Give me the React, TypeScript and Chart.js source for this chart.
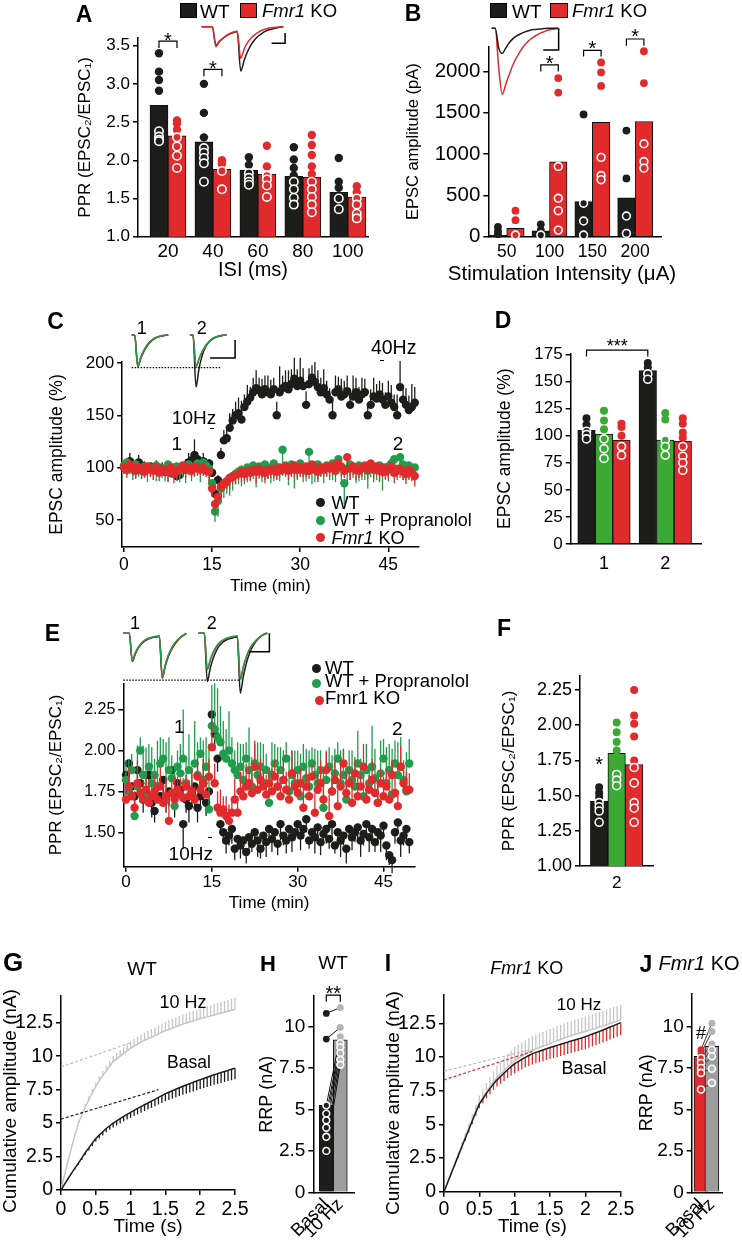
import { useEffect, useRef } from 'react';
import { Chart, registerables } from 'chart.js';

Chart.register(...registerables);

const FONT = '"Liberation Sans", Arial, Helvetica, sans-serif';
const K = 1; // horizontal scale between canvas and page
const BLACK = '#1d1d1b';
const RED = '#e02a2c';
const GREEN = '#3aaa35';
const GREEN_DOT = '#1f9d4c';
const GRAY_BAR = '#9d9d9d';
const GRAY_DOT = '#b4b4b4';
const GRAY_LINE = '#c6c6c6';

// ---------------- Panel A ----------------
const A_ISI = ['20', '40', '60', '80', '100'];
const A_WT = [2.72, 2.24, 1.87, 1.79, 1.58];
const A_KO = [2.32, 1.88, 1.82, 1.78, 1.52];
const A_WT_DOTS = [
  [3.4, 3.16, 3.05, 2.91, 2.38, 2.31, 2.27, 2.25],
  [3.0, 2.62, 2.3, 2.16, 2.1, 2.03, 1.96, 1.72],
  [2.04, 1.94, 1.83, 1.77, 1.72, 1.68],
  [2.17, 2.01, 1.9, 1.8, 1.72, 1.62, 1.51, 1.42],
  [2.03, 1.72, 1.64, 1.5, 1.36],
];
const A_KO_DOTS = [
  [2.52, 2.48, 2.4, 2.3, 2.18, 2.06, 1.9],
  [2.0, 1.95, 1.86, 1.62],
  [2.19, 1.92, 1.8, 1.75, 1.67, 1.52],
  [2.33, 2.2, 2.07, 1.92, 1.82, 1.72, 1.62, 1.52, 1.42, 1.32],
  [1.66, 1.58, 1.5, 1.42, 1.3, 1.24],
];
const A_TR_WT = [0, 0, 0, 0, -0.42, -0.33, -0.26, -0.2, -0.16, -0.13, -0.11, -1.0, -0.75, -0.55, -0.4, -0.29, -0.21, -0.15, -0.1, -0.07, -0.05, -0.03, -0.015, 0];
const A_TR_KO = [0, 0, 0, 0, -0.45, -0.34, -0.26, -0.2, -0.15, -0.12, -0.1, -0.71, -0.5, -0.35, -0.25, -0.18, -0.12, -0.08, -0.05, -0.03, -0.02, -0.01, -0.005, 0];
const A_SCALE_X = [19.7, 23.5, 23.5];
const A_SCALE_Y = [-0.375, -0.375, -0.14];

// ---------------- Panel B ----------------
const B_INT = ['50', '100', '150', '200'];
const B_Y_TICKS = [0, 500, 1000, 1500, 2000];
const B_WT = [20, 70, 425, 470];
const B_KO = [100, 905, 1385, 1395];
const B_WT_DOTS = [[120, 70, 30], [150, 80, 20], [1480, 405, 190, 20], [1285, 705, 250, 40]];
const B_KO_DOTS = [[315, 200, 20], [1920, 1745, 850, 465, 315, 80], [2110, 1990, 1825, 960, 740, 690], [2245, 1860, 1125, 910, 830]];
const B_TR_WT = [0, 0, -0.3, -0.38, -0.3, -0.22, -0.16, -0.12, -0.09, -0.065, -0.045, -0.03, -0.02, -0.015, -0.01, -0.005, 0, 0, 0, 0];
const B_TR_KO = [0, 0, -0.6, -1.0, -0.85, -0.7, -0.56, -0.45, -0.36, -0.28, -0.22, -0.17, -0.13, -0.1, -0.07, -0.05, -0.03, -0.02, -0.01, 0];
const B_SCALE_X = [14.7, 19.1, 19.1];
const B_SCALE_Y = [-0.33, -0.33, 0];

// ---------------- Panel C ----------------
const C_STEP_MIN = 0.5;
const C_WT = [
  100, 104, 106, 103, 101, 105, 102, 100, 99, 101,
  98, 100, 97, 99, 96, 98, 95, 94, 92, 93,
  98, 102, 105, 107, 112, 108, 104, 106, 103, 104,
  95, 75, 88, 112, 126, 128, 138, 145, 150, 152,
  146, 158, 163, 167, 172, 176, 174, 170, 175, 172,
  170, 175, 150, 172, 176, 178, 175, 180, 185, 178,
  183, 178, 160, 180, 186, 182, 177, 172, 176, 170,
  165, 150, 172, 175, 168, 170, 173, 160, 168, 172,
  165, 170, 172, 150, 160, 168, 166, 170, 165, 160,
  168, 162, 158, 150, 177, 165, 160, 155, 158, 162,
];
const C_WT_ERR = [
  6, 4, 8, 5, 3, 7, 4, 6, 5, 3,
  5, 7, 4, 6, 3, 5, 8, 4, 6, 5,
  4, 6, 9, 5, 15, 7, 5, 8, 6, 4,
  6, 8, 5, 7, 10, 12, 14, 11, 13, 15,
  18, 12, 16, 10, 14, 17, 12, 15, 13, 16,
  14, 11, 13, 25, 12, 15, 18, 14, 20, 16,
  22, 17, 13, 15, 12, 19, 16, 14, 18, 13,
  11, 14, 16, 12, 17, 13, 15, 11, 20, 14,
  12, 16, 13, 11, 15, 18, 14, 13, 16, 12,
  15, 17, 12, 20, 25, 13, 16, 14, 22, 15,
];
const C_GR = [
  102, 105, 100, 98, 103, 100, 97, 101, 99, 100,
  98, 102, 100, 97, 99, 103, 98, 100, 101, 97,
  100, 98, 103, 99, 101, 104, 100, 105, 102, 99,
  85, 58, 68, 80, 84, 86, 90, 92, 94, 96,
  98, 95, 100, 97, 102, 99, 101, 96, 103, 100,
  98, 104, 100, 97, 117, 102, 99, 103, 98, 101,
  104, 100, 97, 115, 101, 98, 103, 100, 99, 102,
  100, 104, 97, 108, 101, 85, 99, 103, 100, 98,
  102, 99, 101, 97, 103, 100, 98, 102, 96, 100,
  101, 104, 108, 99, 110, 103, 100, 102, 98, 100,
];
const C_GR_ERR = [
  8, 12, 6, 10, 14, 9, 7, 11, 13, 8,
  10, 15, 9, 7, 12, 16, 8, 10, 14, 11,
  9, 13, 7, 12, 10, 8, 14, 11, 9, 13,
  12, 10, 15, 9, 13, 11, 17, 14, 10, 12,
  16, 11, 14, 9, 13, 18, 12, 10, 15, 11,
  13, 17, 12, 10, 14, 11, 16, 12, 18, 13,
  11, 14, 10, 13, 17, 12, 15, 9, 14, 11,
  12, 16, 11, 14, 13, 20, 12, 15, 10, 13,
  15, 11, 13, 17, 12, 14, 10, 16, 18, 12,
  14, 12, 16, 11, 13, 15, 12, 14, 10, 13,
];
const C_KO = [
  100, 98, 103, 101, 97, 100, 99, 96, 101, 98,
  97, 100, 95, 99, 98, 96, 100, 94, 97, 99,
  102, 98, 100, 97, 101, 99, 98, 100, 97, 96,
  80, 65, 72, 82, 85, 87, 90, 91, 93, 94,
  96, 94, 97, 95, 98, 96, 99, 97, 95, 98,
  97, 99, 96, 100, 98, 101, 97, 99, 102, 98,
  100, 98, 101, 97, 103, 99, 96, 100, 98, 101,
  99, 102, 98, 104, 100, 97, 110, 99, 101, 98,
  97, 100, 102, 99, 104, 98, 101, 97, 100, 96,
  98, 101, 95, 97, 99, 96, 94, 98, 95, 92,
];
const C_KO_ERR = [
  6, 8, 5, 9, 7, 6, 10, 5, 8, 7,
  9, 6, 8, 5, 7, 10, 6, 9, 7, 8,
  5, 8, 7, 6, 9, 7, 5, 8, 6, 9,
  8, 10, 6, 9, 7, 8, 11, 7, 9, 6,
  10, 7, 9, 8, 6, 11, 8, 7, 10, 9,
  7, 9, 8, 10, 6, 8, 9, 7, 11, 8,
  9, 7, 10, 8, 9, 6, 10, 8, 7, 9,
  8, 10, 7, 9, 8, 7, 9, 11, 8, 10,
  7, 9, 8, 10, 7, 9, 8, 10, 9, 7,
  9, 8, 10, 7, 9, 8, 10, 9, 8, 10,
];
const C_T1_WT = [0, 0, -1.0, -0.74, -0.52, -0.36, -0.24, -0.15, -0.09, -0.05, -0.03, -0.01, 0];
const C_T1_GR = [0, 0, -1.0, -0.7, -0.48, -0.32, -0.21, -0.13, -0.08, -0.05, -0.02, -0.01, 0];
const C_T1_KO = [0, 0, -0.98, -0.72, -0.5, -0.34, -0.22, -0.14, -0.08, -0.05, -0.03, -0.01, 0];
const C_T2_WT = [0, 0, -1.64, -1.05, -0.66, -0.4, -0.25, -0.15, -0.09, -0.05, -0.03, -0.01, 0];
const C_T2_GR = [0, 0, -1.02, -0.74, -0.52, -0.35, -0.23, -0.14, -0.08, -0.05, -0.02, -0.01, 0];
const C_T2_KO = [0, 0, -0.98, -0.76, -0.55, -0.38, -0.25, -0.16, -0.1, -0.06, -0.03, -0.01, 0];
const C_DOT_X = [1.2, 30.7];
const C_DOT_Y = [-1.03, -1.03];
const C_SCALE_X = [26.9, 35.1, 35.1];
const C_SCALE_Y = [-0.73, -0.73, -0.16];

// ---------------- Panel D ----------------
const D_GROUPS = ['1', '2'];
const D_WT = [105, 160];
const D_PR = [101.5, 96];
const D_KO = [96, 95];
const D_WT_DOTS = [[116, 110, 104, 101, 97], [167, 163, 157, 152]];
const D_PR_DOTS = [[123, 114, 106, 97, 88, 79], [121, 115, 96, 90, 82]];
const D_KO_DOTS = [[111, 108, 100, 90, 82], [116, 111, 103, 98, 90, 81, 75, 68]];

// ---------------- Panel E ----------------
const E_STEP_MIN = 0.5;
const E_WT = [
  1.85, 1.92, 1.78, 1.72, 1.88, 1.8, 1.7, 1.75, 1.85, 1.68,
  1.63, 1.78, 1.72, 1.82, 1.7, 1.75, 1.88, 1.72, 1.8, 1.76,
  1.55, 1.7, 1.66, 1.74, 1.78, 1.65, 1.72, 1.8, 1.68, 1.75,
  2.22, 2.1, 1.95, 1.55, 1.5, 1.45, 1.48, 1.52, 1.4, 1.46,
  1.42, 1.45, 1.38, 1.47, 1.43, 1.5, 1.45, 1.4, 1.48, 1.44,
  1.52, 1.46, 1.5, 1.43, 1.55, 1.48, 1.45, 1.52, 1.47, 1.5,
  1.55, 1.48, 1.52, 1.58, 1.45, 1.5, 1.47, 1.53, 1.44, 1.49,
  1.52, 1.46, 1.55, 1.42, 1.5, 1.45, 1.48, 1.4, 1.52, 1.47,
  1.5, 1.53, 1.45, 1.49, 1.55, 1.47, 1.52, 1.44, 1.5, 1.48,
  1.54, 1.42, 1.36, 1.33, 1.5, 1.56, 1.45, 1.48, 1.52, 1.44,
];
const E_WT_ERR = [
  0.06, 0.09, 0.05, 0.1, 0.07, 0.12, 0.08, 0.06, 0.11, 0.09,
  0.07, 0.1, 0.06, 0.12, 0.08, 0.09, 0.07, 0.13, 0.1, 0.06,
  0.15, 0.08, 0.1, 0.07, 0.12, 0.09, 0.06, 0.11, 0.08, 0.1,
  0.12, 0.1, 0.08, 0.06, 0.07, 0.08, 0.06, 0.09, 0.07, 0.05,
  0.08, 0.06, 0.07, 0.09, 0.05, 0.08, 0.1, 0.06, 0.07, 0.09,
  0.06, 0.08, 0.05, 0.07, 0.1, 0.06, 0.08, 0.07, 0.09, 0.05,
  0.07, 0.09, 0.06, 0.08, 0.05, 0.07, 0.1, 0.06, 0.08, 0.07,
  0.09, 0.06, 0.08, 0.05, 0.07, 0.1, 0.06, 0.09, 0.07, 0.08,
  0.06, 0.08, 0.1, 0.07, 0.05, 0.09, 0.07, 0.06, 0.08, 0.1,
  0.07, 0.09, 0.06, 0.08, 0.07, 0.05, 0.1, 0.06, 0.08, 0.07,
];
const E_GR = [
  1.82, 1.75, 1.88, 1.6, 1.78, 2.0, 1.85, 1.72, 1.9, 1.8,
  1.85, 1.78, 1.92, 1.95, 1.7, 1.88, 1.83, 1.66, 1.9, 1.86,
  1.95, 1.8, 1.88, 1.75, 1.92, 1.85, 1.98, 1.82, 1.9, 1.64,
  2.15, 2.13, 2.08, 2.05, 1.98, 1.95, 2.0, 1.92, 1.88, 1.85,
  1.9, 1.82, 1.95, 1.88, 1.78, 1.92, 1.85, 1.9, 1.8, 1.88,
  1.68, 1.85, 1.92, 1.78, 1.88, 1.82, 1.95, 1.75, 1.85, 1.8,
  1.88, 1.72, 1.9, 1.83, 1.78, 1.92, 1.85, 1.8, 1.88, 1.65,
  1.82, 1.9, 1.75, 1.86, 1.95, 1.8, 1.85, 1.7, 1.88, 1.82,
  1.78, 1.92, 1.85, 1.72, 1.88, 1.8, 1.9, 1.83, 1.68, 1.86,
  1.95, 1.8, 1.88, 1.73, 1.92, 1.85, 1.9, 1.82, 1.75, 1.92,
];
const E_GR_ERR = [
  0.12, 0.2, 0.1, 0.15, 0.25, 0.08, 0.18, 0.3, 0.14, 0.22,
  0.1, 0.28, 0.16, 0.12, 0.35, 0.2, 0.14, 0.26, 0.1, 0.18,
  0.3, 0.16, 0.22, 0.12, 0.26, 0.2, 0.1, 0.24, 0.18, 0.4,
  0.25, 0.28, 0.3, 0.22, 0.2, 0.18, 0.24, 0.16, 0.12, 0.2,
  0.14, 0.22, 0.1, 0.26, 0.18, 0.12, 0.2, 0.15, 0.24, 0.1,
  0.16, 0.2, 0.12, 0.24, 0.14, 0.18, 0.1, 0.22, 0.15, 0.2,
  0.12, 0.26, 0.14, 0.18, 0.22, 0.1, 0.16, 0.2, 0.12, 0.24,
  0.18, 0.12, 0.22, 0.15, 0.1, 0.2, 0.16, 0.24, 0.12, 0.18,
  0.14, 0.2, 0.1, 0.22, 0.16, 0.12, 0.25, 0.18, 0.14, 0.2,
  0.12, 0.22, 0.16, 0.28, 0.14, 0.2, 0.18, 0.12, 0.24, 0.15,
];
const E_KO = [
  1.7, 1.78, 1.72, 1.65, 1.8, 1.74, 1.7, 1.76, 1.68, 1.72,
  1.75, 1.7, 1.78, 1.68, 1.72, 1.57, 1.74, 1.7, 1.76, 1.73,
  1.71, 1.78, 1.72, 1.75, 1.7, 1.84, 1.76, 1.8, 1.73, 1.84,
  2.02, 1.8, 1.65, 1.62, 1.64, 1.6, 1.57, 1.62, 1.7, 1.62,
  1.75, 1.72, 1.78, 1.8, 1.74, 1.9, 1.76, 1.82, 1.78, 1.73,
  1.8, 1.75, 1.84, 1.78, 1.72, 1.82, 1.76, 1.7, 1.86, 1.78,
  1.74, 1.8, 1.65, 1.78, 1.72, 1.84, 1.62, 1.76, 1.8, 1.7,
  1.88, 1.6, 1.75, 1.82, 1.66, 1.78, 1.92, 1.74, 1.8, 1.68,
  1.86, 1.72, 1.78, 1.9, 1.7, 1.76, 1.82, 1.74, 1.68, 1.8,
  1.72, 1.78, 1.7, 1.85, 1.74, 1.66, 1.9, 1.8, 1.76, 1.76,
];
const E_KO_ERR = [
  0.08, 0.12, 0.06, 0.1, 0.14, 0.07, 0.11, 0.09, 0.13, 0.06,
  0.1, 0.08, 0.12, 0.07, 0.11, 0.15, 0.09, 0.13, 0.08, 0.1,
  0.12, 0.07, 0.1, 0.14, 0.08, 0.12, 0.1, 0.15, 0.09, 0.11,
  0.16, 0.12, 0.1, 0.14, 0.08, 0.12, 0.1, 0.09, 0.13, 0.1,
  0.12, 0.08, 0.14, 0.1, 0.12, 0.16, 0.09, 0.13, 0.1, 0.12,
  0.08, 0.14, 0.1, 0.12, 0.09, 0.13, 0.11, 0.08, 0.14, 0.1,
  0.12, 0.09, 0.15, 0.1, 0.13, 0.08, 0.12, 0.1, 0.14, 0.09,
  0.11, 0.13, 0.08, 0.12, 0.1, 0.14, 0.09, 0.12, 0.1, 0.15,
  0.1, 0.12, 0.08, 0.14, 0.11, 0.09, 0.13, 0.1, 0.12, 0.08,
  0.12, 0.1, 0.14, 0.09, 0.12, 0.1, 0.13, 0.08, 0.11, 0.1,
];
const E_T1_WT = [0, 0, 0, -0.63, -0.46, -0.33, -0.24, -0.18, -0.14, -0.11, -0.09, -0.08, -0.07, -1.0, -0.73, -0.52, -0.37, -0.26, -0.17, -0.1, -0.05, 0];
const E_T1_GR = [0, 0, 0, -0.6, -0.43, -0.31, -0.22, -0.16, -0.12, -0.1, -0.08, -0.07, -0.06, -0.98, -0.7, -0.49, -0.34, -0.23, -0.15, -0.09, -0.04, 0];
const E_T1_KO = [0, 0, 0, -0.62, -0.45, -0.32, -0.23, -0.17, -0.13, -0.1, -0.08, -0.07, -0.06, -0.99, -0.71, -0.5, -0.35, -0.24, -0.16, -0.09, -0.04, 0];
const E_T2_WT = [0, 0, 0, -1.07, -0.77, -0.55, -0.39, -0.28, -0.21, -0.16, -0.13, -0.11, -0.09, -0.08, -1.33, -0.96, -0.67, -0.46, -0.31, -0.2, -0.12, -0.06, -0.02, 0];
const E_T2_GR = [0, 0, 0, -0.81, -0.58, -0.41, -0.29, -0.21, -0.16, -0.12, -0.1, -0.08, -0.07, -0.06, -1.03, -0.74, -0.52, -0.36, -0.25, -0.17, -0.11, -0.06, -0.02, 0];
const E_T2_KO = [0, 0, 0, -0.8, -0.6, -0.43, -0.31, -0.23, -0.17, -0.13, -0.1, -0.08, -0.07, -0.06, -1.02, -0.76, -0.54, -0.38, -0.26, -0.18, -0.11, -0.06, -0.02, 0];
const E_DOT_X = [0, 38.9];
const E_DOT_Y = [-1.04, -1.04];
const E_SCALE_X = [41.7, 48.7, 48.7];
const E_SCALE_Y = [-0.41, -0.41, 0];

// ---------------- Panel F ----------------
const F_GROUP = ['2'];
const F_WT = [1.46];
const F_PR = [1.8];
const F_KO = [1.72];
const F_WT_DOTS = [[1.56, 1.52, 1.49, 1.45, 1.42, 1.39, 1.31]];
const F_PR_DOTS = [[2.02, 1.95, 1.88, 1.82, 1.65, 1.61, 1.57]];
const F_KO_DOTS = [[2.25, 2.07, 2.01, 1.92, 1.75, 1.7, 1.59, 1.45, 1.41, 1.31]];

// ---------------- Panels G / I (cumulative amplitude, 0.05 s steps) ----------------
const CUM_STEP_S = 0.05;
const G_BASAL = [
  0, 0.42, 0.84, 1.24, 1.63, 2.0, 2.4, 2.8, 3.15, 3.5,
  3.85, 4.1, 4.35, 4.6, 4.8, 5.0, 5.17, 5.33, 5.5, 5.65,
  5.8, 5.95, 6.1, 6.23, 6.37, 6.5, 6.64, 6.78, 6.92, 7.06,
  7.2, 7.31, 7.42, 7.53, 7.64, 7.75, 7.85, 7.95, 8.05, 8.15,
  8.25, 8.34, 8.43, 8.52, 8.61, 8.7, 8.78, 8.86, 8.94, 9.02, 9.1,
];
const G_BASAL_ERR = [
  0, 0.03, 0.05, 0.08, 0.1, 0.12, 0.15, 0.17, 0.19, 0.21,
  0.23, 0.25, 0.27, 0.29, 0.3, 0.32, 0.34, 0.36, 0.37, 0.39,
  0.4, 0.42, 0.44, 0.45, 0.47, 0.48, 0.5, 0.52, 0.53, 0.55,
  0.56, 0.58, 0.59, 0.61, 0.62, 0.64, 0.65, 0.66, 0.68, 0.69,
  0.7, 0.72, 0.73, 0.74, 0.75, 0.77, 0.78, 0.79, 0.8, 0.82, 0.83,
];
const G_HZ = [
  0, 1.1, 2.15, 3.15, 4.1, 5.0, 5.6, 6.2, 6.75, 7.25,
  7.75, 8.15, 8.55, 8.9, 9.25, 9.6, 9.8, 10.0, 10.2, 10.4,
  10.6, 10.75, 10.9, 11.05, 11.18, 11.3, 11.42, 11.54, 11.66, 11.78,
  11.9, 12.0, 12.1, 12.2, 12.3, 12.4, 12.48, 12.56, 12.64, 12.72,
  12.8, 12.87, 12.94, 13.01, 13.08, 13.15, 13.22, 13.29, 13.36, 13.43, 13.5,
];
const G_HZ_ERR = [
  0, 0.04, 0.07, 0.1, 0.13, 0.16, 0.19, 0.22, 0.25, 0.28,
  0.3, 0.33, 0.35, 0.38, 0.4, 0.42, 0.44, 0.46, 0.48, 0.5,
  0.52, 0.54, 0.55, 0.57, 0.58, 0.6, 0.61, 0.63, 0.64, 0.65,
  0.66, 0.68, 0.69, 0.7, 0.71, 0.72, 0.73, 0.74, 0.75, 0.76,
  0.77, 0.78, 0.79, 0.8, 0.81, 0.82, 0.83, 0.84, 0.85, 0.86, 0.87,
];
const G_FIT_BASAL_T = [0, 1.4];
const G_FIT_BASAL_V = [5.3, 7.5];
const G_FIT_HZ_T = [0, 1.0];
const G_FIT_HZ_V = [9.2, 11.0];

const I_BASAL = [
  0, 0.66, 1.32, 1.98, 2.64, 3.3, 3.95, 4.6, 5.25, 5.9,
  6.5, 6.9, 7.3, 7.65, 8.0, 8.3, 8.55, 8.8, 9.05, 9.28,
  9.5, 9.66, 9.82, 9.97, 10.11, 10.25, 10.34, 10.43, 10.52, 10.61,
  10.7, 10.78, 10.86, 10.94, 11.02, 11.1, 11.18, 11.26, 11.34, 11.42,
  11.5, 11.6, 11.7, 11.8, 11.9, 12.0, 12.11, 12.22, 12.33, 12.44, 12.55,
];
const I_BASAL_ERR = [
  0, 0.03, 0.06, 0.09, 0.12, 0.15, 0.18, 0.21, 0.24, 0.27,
  0.3, 0.34, 0.38, 0.42, 0.46, 0.5, 0.54, 0.58, 0.62, 0.66,
  0.7, 0.72, 0.74, 0.76, 0.78, 0.8, 0.81, 0.82, 0.83, 0.84,
  0.85, 0.86, 0.87, 0.87, 0.88, 0.88, 0.89, 0.89, 0.9, 0.9,
  0.91, 0.91, 0.92, 0.92, 0.92, 0.93, 0.93, 0.93, 0.94, 0.94, 0.94,
];
const I_HZ = [
  0, 0.68, 1.36, 2.04, 2.72, 3.4, 4.05, 4.7, 5.35, 6.0,
  6.6, 7.0, 7.4, 7.8, 8.15, 8.5, 8.75, 9.0, 9.25, 9.5,
  9.75, 9.9, 10.05, 10.2, 10.35, 10.5, 10.6, 10.7, 10.8, 10.9,
  11.0, 11.1, 11.2, 11.3, 11.4, 11.5, 11.58, 11.66, 11.74, 11.82,
  11.9, 11.98, 12.06, 12.14, 12.22, 12.3, 12.39, 12.48, 12.57, 12.66, 12.75,
];
const I_HZ_ERR = [
  0, 0.05, 0.1, 0.15, 0.2, 0.25, 0.3, 0.36, 0.42, 0.48,
  0.54, 0.6, 0.66, 0.72, 0.78, 0.84, 0.88, 0.92, 0.95, 0.98,
  1.0, 1.02, 1.03, 1.04, 1.05, 1.06, 1.06, 1.07, 1.07, 1.08,
  1.08, 1.08, 1.09, 1.09, 1.09, 1.1, 1.1, 1.1, 1.1, 1.11,
  1.11, 1.11, 1.11, 1.12, 1.12, 1.12, 1.12, 1.13, 1.13, 1.13, 1.13,
];
const I_FIT_BASAL_T = [0, 1.27];
const I_FIT_BASAL_V = [8.3, 10.45];
const I_FIT_HZ_T = [0, 1.2];
const I_FIT_HZ_V = [8.95, 10.5];

// ---------------- Panels H / J (RRP) ----------------
const RRP_LABELS = ['Basal', '10 Hz'];
const H_RRP = [5.25, 9.2];
const H_BASAL_DOTS = [10.8, 9.25, 5.25, 4.75, 4.35, 3.9, 3.35, 2.5];
const H_HZ_DOTS = [11.15, 9.95, 9.4, 9.0, 8.75, 8.4, 8.0, 7.7];
const J_RRP = [8.2, 8.8];
const J_BASAL_DOTS = [8.6, 8.4, 8.1, 7.8, 7.5, 7.2, 6.2];
const J_HZ_DOTS = [10.2, 9.7, 8.95, 8.6, 8.2, 7.45, 6.6];

// ---------------- layout helpers ----------------
type Box = { x: number; y: number; w: number; h: number };
type Area = { l: number; t: number; r: number; b: number };

// width of the y scale so that its title centre lands at tcx (page px)
function ywFor(area: Area, tcx: number, ts: number) {
  return (area.l - tcx) / K + 0.6 * ts;
}
function padFor(box: Box, area: Area, yw: number, xh: number) {
  return {
    left: (area.l - box.x) / K - yw,
    top: area.t - box.y,
    right: (box.x + box.w - area.r) / K,
    bottom: box.y + box.h - area.b - xh,
  };
}

function baseOptions(box: Box, area: Area, yw: number, xh: number, plugins: any = {}) {
  return {
    responsive: false,
    animation: false,
    events: [],
    layout: { padding: padFor(box, area, yw, xh) },
    plugins: { legend: { display: false }, tooltip: { enabled: false }, ...plugins },
  };
}

function yAx(o: any) {
  const ax: any = {
    type: 'linear',
    position: 'left',
    min: o.min,
    max: o.max,
    afterFit: (s: any) => { s.width = o.w; },
    border: { display: true, color: '#000', width: 1.5 },
    grid: { drawOnChartArea: false, drawTicks: true, tickLength: 5, color: '#000', lineWidth: 1.5 },
    ticks: {
      stepSize: o.step, includeBounds: false, color: '#000', padding: o.pad ?? 3,
      font: { family: FONT, size: o.fs || 17 },
      callback: o.fmt || ((v: number) => String(v)),
    },
    title: { display: !!o.title, text: o.title, color: '#000', padding: 0, font: { family: FONT, size: o.ts || 17 } },
  };
  if (o.tickList) {
    ax.afterBuildTicks = (s: any) => { s.ticks = o.tickList.map((v: number) => ({ value: v })); };
  }
  return ax;
}

function xAx(o: any) {
  const labelled = !!o.labels;
  return {
    type: 'linear',
    position: 'bottom',
    min: o.min,
    max: o.max,
    offset: false,
    afterFit: (s: any) => { s.height = o.h; },
    border: { display: true, color: '#000', width: 1.5 },
    grid: labelled
      ? { display: false, drawTicks: false, drawOnChartArea: false }
      : { drawOnChartArea: false, drawTicks: true, tickLength: 5, color: '#000', lineWidth: 1.5 },
    ticks: {
      stepSize: o.step || 1, includeBounds: false, autoSkip: false, color: '#000', padding: o.pad ?? 3,
      maxRotation: o.rot || 0, minRotation: o.rot || 0,
      font: { family: FONT, size: o.fs || 17 },
      callback: labelled ? ((v: number) => (o.labels[v] ?? '')) : (o.fmt || ((v: number) => String(v))),
    },
    title: { display: !!o.title, text: o.title, color: '#000', padding: 0, font: { family: FONT, size: o.ts || 17 } },
  };
}

function barSet(vals: number[], dots: any, color: any, thickPage: number, dotColor?: any) {
  return {
    type: 'bar',
    data: vals.map((v, i) => ({ x: i, y: v })),
    backgroundColor: color,
    borderColor: '#111',
    borderWidth: 1,
    borderSkipped: 'bottom',
    barThickness: thickPage / K,
    dots,
    dotColor: dotColor || color,
  };
}

// dots over bars (values from the dot arrays, placed through the y scale)
const dotsPlugin = {
  id: 'dots',
  afterDatasetsDraw(chart: any, _args: any, opts: any) {
    const ctx = chart.ctx;
    const ys = chart.scales.y;
    const r = opts.r || 4;
    chart.data.datasets.forEach((ds: any, di: number) => {
      if (!ds.dots) return;
      const els = chart.getDatasetMeta(di).data;
      if (opts.pairs && ds.dots.length >= 2) {
        ctx.save();
        ctx.strokeStyle = opts.pairColor || '#000';
        ctx.lineWidth = 1;
        const a = ds.dots[0];
        const b = ds.dots[1];
        for (let k = 0; k < Math.min(a.length, b.length); k++) {
          ctx.beginPath();
          ctx.moveTo(els[0].x, ys.getPixelForValue(a[k]));
          ctx.lineTo(els[1].x, ys.getPixelForValue(b[k]));
          ctx.stroke();
        }
        ctx.restore();
      }
      els.forEach((el: any, i: number) => {
        const vals = ds.dots[i] || [];
        const top = ds.data[i].y;
        const col = Array.isArray(ds.dotColor) ? ds.dotColor[i] : ds.dotColor;
        vals.forEach((v: number) => {
          const y = ys.getPixelForValue(v);
          ctx.beginPath();
          ctx.arc(el.x, y, r, 0, Math.PI * 2);
          ctx.fillStyle = col;
          ctx.fill();
          if (v <= top) {
            ctx.lineWidth = 1.6;
            ctx.strokeStyle = '#fff';
            ctx.stroke();
          }
        });
      });
    });
  },
};

// significance brackets / marks anchored to bars
const bracketPlugin = {
  id: 'brackets',
  afterDatasetsDraw(chart: any, _args: any, opts: any) {
    const items = opts.items || [];
    const ctx = chart.ctx;
    const ys = chart.scales.y;
    items.forEach((it: any) => {
      const xa = chart.getDatasetMeta(it.a[0]).data[it.a[1]].x;
      const xb = it.b ? chart.getDatasetMeta(it.b[0]).data[it.b[1]].x : xa;
      const yt = ys.getPixelForValue(it.y);
      ctx.save();
      ctx.strokeStyle = '#000';
      ctx.lineWidth = 1.2;
      if (it.b) {
        const yl = ys.getPixelForValue(it.leg);
        ctx.beginPath();
        ctx.moveTo(xa, yl);
        ctx.lineTo(xa, yt);
        ctx.lineTo(xb, yt);
        ctx.lineTo(xb, yl);
        ctx.stroke();
      }
      ctx.fillStyle = '#000';
      ctx.font = `${it.fs || 20}px ${FONT}`;
      ctx.textAlign = 'center';
      ctx.textBaseline = 'alphabetic';
      ctx.fillText(it.text, (xa + xb) / 2 + (it.dx || 0), yt + (it.dy || 0));
      ctx.restore();
    });
  },
};

// one-sided error bars for point & line series
const errPlugin = {
  id: 'errbars',
  beforeDatasetDraw(chart: any, args: any) {
    const ds = chart.data.datasets[args.index];
    if (!ds.errUp && !ds.errDown) return;
    const ys = chart.scales.y;
    const ctx = chart.ctx;
    ctx.save();
    ctx.strokeStyle = ds.errColor || ds.borderColor;
    ctx.lineWidth = ds.errWidth || 1;
    args.meta.data.forEach((el: any, i: number) => {
      const v = ds.data[i].y;
      const up = ds.errUp ? ds.errUp[i] : 0;
      const dn = ds.errDown ? ds.errDown[i] : 0;
      ctx.beginPath();
      ctx.moveTo(el.x, ys.getPixelForValue(v - dn));
      ctx.lineTo(el.x, ys.getPixelForValue(v + up));
      ctx.stroke();
    });
    ctx.restore();
  },
};

const series = (vals: number[], step: number) => vals.map((v, i) => ({ x: i * step, y: v }));
const pairs = (xs: number[], ys: number[]) => xs.map((x, i) => ({ x, y: ys[i] }));
const trace = (vals: number[], off: number) => vals.map((v, i) => ({ x: i + off, y: v }));

const PPR_TITLE = 'PPR (EPSC\u2082/EPSC\u2081)';

// ---------------- chart configs ----------------
const BOX_A: Box = { x: 60, y: 20, w: 320, h: 270 };
const AREA_A: Area = { l: 138, t: 38, r: 368, b: 236.7 };
function cfgA() {
  const yw = ywFor(AREA_A, 85, 17);
  const xh = 45.3;
  return {
    type: 'bar',
    data: { datasets: [barSet(A_WT, A_WT_DOTS, BLACK, 18), barSet(A_KO, A_KO_DOTS, RED, 18)] },
    options: {
      ...baseOptions(BOX_A, AREA_A, yw, xh, {
        dots: { r: 4.2 },
        brackets: { items: [
          { a: [0, 0], b: [1, 0], y: 3.56, leg: 3.47, text: '*', dy: 5.6 },
          { a: [0, 1], b: [1, 1], y: 3.19, leg: 3.1, text: '*', dy: 5.6 },
        ] },
      }),
      scales: {
        x: xAx({ min: -0.667, max: 4.45, h: xh, labels: A_ISI, title: 'ISI (ms)', ts: 20, fs: 19, pad: 4 }),
        y: yAx({ min: 1.0, max: 3.6, step: 0.5, w: yw, title: PPR_TITLE, ts: 17, fs: 17, fmt: (v: number) => v.toFixed(1) }),
      },
    },
    plugins: [dotsPlugin, bracketPlugin],
  };
}

const BOX_B: Box = { x: 395, y: 20, w: 290, h: 275 };
const AREA_B: Area = { l: 488.3, t: 46.7, r: 661.7, b: 236.7 };
function cfgB() {
  const yw = ywFor(AREA_B, 413, 16.5);
  const xh = 48.6;
  return {
    type: 'bar',
    data: { datasets: [barSet(B_WT, B_WT_DOTS, BLACK, 17.5), barSet(B_KO, B_KO_DOTS, RED, 17.5)] },
    options: {
      ...baseOptions(BOX_B, AREA_B, yw, xh, {
        dots: { r: 3.9 },
        brackets: { items: [
          { a: [0, 1], b: [1, 1], y: 2081, leg: 2000, text: '*', dy: 5.6 },
          { a: [0, 2], b: [1, 2], y: 2255, leg: 2182, text: '*', dy: 4.2 },
          { a: [0, 3], b: [1, 3], y: 2393, leg: 2312, text: '*', dy: 4.2 },
        ] },
      }),
      scales: {
        x: xAx({ min: -0.43, max: 3.62, h: xh, labels: B_INT, fs: 17.5, pad: 5 }),
        y: yAx({ min: 0, max: 2300, step: 500, w: yw, title: 'EPSC amplitude (pA)', ts: 16.5, fs: 20.5, tickList: B_Y_TICKS }),
      },
    },
    plugins: [dotsPlugin, bracketPlugin],
  };
}

function pointSet(vals: number[], step: number, color: string, order: number, err: any) {
  return {
    type: 'line',
    data: series(vals, step),
    showLine: false,
    borderColor: color,
    backgroundColor: color,
    pointRadius: 4.2,
    pointBorderWidth: 0,
    clip: false,
    order,
    errColor: color,
    errWidth: 1.3,
    ...err,
  };
}

const BOX_C: Box = { x: 40, y: 345, w: 400, h: 260 };
const AREA_C: Area = { l: 122.2, t: 362, r: 418.3, b: 547 };
function cfgC() {
  const yw = ywFor(AREA_C, 57.5, 17.5);
  const xh = 49.2;
  return {
    type: 'line',
    data: { datasets: [
      pointSet(C_KO, C_STEP_MIN, RED, 1, { errDown: C_KO_ERR }),
      pointSet(C_GR, C_STEP_MIN, GREEN_DOT, 2, { errDown: C_GR_ERR }),
      pointSet(C_WT, C_STEP_MIN, BLACK, 3, { errUp: C_WT_ERR }),
    ] },
    options: {
      ...baseOptions(BOX_C, AREA_C, yw, xh),
      scales: {
        x: xAx({ min: -0.3, max: 50.1, step: 15, h: xh, title: 'Time (min)', ts: 17, fs: 17.5, pad: 2.5 }),
        y: yAx({ min: 24, max: 201, step: 50, w: yw, title: 'EPSC amplitude (%)', ts: 17.5, fs: 17 }),
      },
    },
    plugins: [errPlugin],
  };
}

const BOX_D: Box = { x: 485, y: 330, w: 245, h: 255 };
const AREA_D: Area = { l: 570.7, t: 353.3, r: 701.7, b: 544 };
function cfgD() {
  const yw = ywFor(AREA_D, 505, 17.5);
  const xh = 30;
  return {
    type: 'bar',
    data: { datasets: [
      barSet(D_WT, D_WT_DOTS, BLACK, 17.5),
      barSet(D_PR, D_PR_DOTS, GREEN, 17.5),
      barSet(D_KO, D_KO_DOTS, RED, 17.5),
    ] },
    options: {
      ...baseOptions(BOX_D, AREA_D, yw, xh, {
        dots: { r: 4 },
        brackets: { items: [{ a: [0, 0], b: [0, 1], y: 179, leg: 173, text: '***', fs: 18, dy: 2.4 }] },
      }),
      scales: {
        x: xAx({ min: -0.543, max: 1.594, h: xh, labels: D_GROUPS, fs: 18, pad: 9.3 }),
        y: yAx({ min: 0, max: 176, step: 25, w: yw, title: 'EPSC amplitude (%)', ts: 17.5, fs: 17 }),
      },
    },
    plugins: [dotsPlugin, bracketPlugin],
  };
}

const BOX_E: Box = { x: 40, y: 660, w: 395, h: 265 };
const AREA_E: Area = { l: 123.3, t: 683.3, r: 415, b: 866.7 };
function cfgE() {
  const yw = ywFor(AREA_E, 56.7, 17);
  const xh = 46.5;
  return {
    type: 'line',
    data: { datasets: [
      pointSet(E_KO, E_STEP_MIN, RED, 1, { errUp: E_KO_ERR }),
      pointSet(E_GR, E_STEP_MIN, GREEN_DOT, 2, { errUp: E_GR_ERR }),
      pointSet(E_WT, E_STEP_MIN, BLACK, 3, { errDown: E_WT_ERR }),
    ] },
    options: {
      ...baseOptions(BOX_E, AREA_E, yw, xh),
      scales: {
        x: xAx({ min: -0.47, max: 50.5, step: 15, h: xh, title: 'Time (min)', ts: 17, fs: 17, pad: 0.5 }),
        y: yAx({ min: 1.29, max: 2.41, step: 0.25, w: yw, title: PPR_TITLE, ts: 17, fs: 16, fmt: (v: number) => v.toFixed(2) }),
      },
    },
    plugins: [errPlugin],
  };
}

const BOX_F: Box = { x: 490, y: 655, w: 190, h: 250 };
const AREA_F: Area = { l: 580, t: 676, r: 653.3, b: 865.9 };
function cfgF() {
  const yw = ywFor(AREA_F, 509, 17);
  const xh = 30;
  return {
    type: 'bar',
    data: { datasets: [
      barSet(F_WT, F_WT_DOTS, BLACK, 17.5),
      barSet(F_PR, F_PR_DOTS, GREEN, 17.5),
      barSet(F_KO, F_KO_DOTS, RED, 17.5),
    ] },
    options: {
      ...baseOptions(BOX_F, AREA_F, yw, xh, {
        dots: { r: 4 },
        brackets: { items: [{ a: [0, 0], y: 1.758, text: '*', dy: 11.6 }] },
      }),
      scales: {
        x: xAx({ min: -1, max: 1, h: xh, labels: F_GROUP, fs: 17, pad: 7.7 }),
        y: yAx({ min: 1.0, max: 2.35, step: 0.25, w: yw, title: PPR_TITLE, ts: 17, fs: 18, fmt: (v: number) => v.toFixed(2) }),
      },
    },
    plugins: [dotsPlugin, bracketPlugin],
  };
}

function curveSet(vals: number[], color: string, order: number, err: any, errColor?: string) {
  return {
    type: 'line',
    data: series(vals, CUM_STEP_S),
    borderColor: color,
    borderWidth: 1.5,
    pointRadius: 0,
    tension: 0,
    fill: false,
    order,
    errColor: errColor || color,
    errWidth: 1.3,
    ...err,
  };
}
function fitSet(ts: number[], vs: number[], color: string) {
  return { type: 'line', data: pairs(ts, vs), borderColor: color, borderWidth: 1.2, borderDash: [3, 2], pointRadius: 0, tension: 0, order: 0 };
}

const BOX_G: Box = { x: -10, y: 975, w: 265, h: 265 };
const AREA_G: Area = { l: 61, t: 996, r: 235, b: 1190 };
function cfgG() {
  const yw = ywFor(AREA_G, 8.3, 19);
  const xh = 48.1;
  return {
    type: 'line',
    data: { datasets: [
      fitSet(G_FIT_BASAL_T, G_FIT_BASAL_V, '#222'),
      fitSet(G_FIT_HZ_T, G_FIT_HZ_V, '#bdbdbd'),
      curveSet(G_BASAL, BLACK, 1, { errDown: G_BASAL_ERR }),
      curveSet(G_HZ, GRAY_LINE, 2, { errUp: G_HZ_ERR }),
    ] },
    options: {
      ...baseOptions(BOX_G, AREA_G, yw, xh),
      scales: {
        x: xAx({ min: 0, max: 2.5, step: 0.5, h: xh, title: 'Time (s)', fs: 19.5, ts: 19, pad: 3.2 }),
        y: yAx({ min: 0, max: 14.5, step: 2.5, w: yw, fs: 19.5 }),
      },
    },
    plugins: [errPlugin],
  };
}

const BOX_I: Box = { x: 370, y: 975, w: 270, h: 265 };
const AREA_I: Area = { l: 444, t: 995, r: 620.7, b: 1191.7 };
function cfgI() {
  const yw = ywFor(AREA_I, 392.3, 19);
  const xh = 46.7;
  return {
    type: 'line',
    data: { datasets: [
      fitSet(I_FIT_HZ_T, I_FIT_HZ_V, '#bdbdbd'),
      fitSet(I_FIT_BASAL_T, I_FIT_BASAL_V, RED),
      curveSet(I_BASAL, BLACK, 1, { errDown: I_BASAL_ERR }, RED),
      curveSet(I_HZ, GRAY_LINE, 2, { errUp: I_HZ_ERR }),
    ] },
    options: {
      ...baseOptions(BOX_I, AREA_I, yw, xh),
      scales: {
        x: xAx({ min: 0, max: 2.5, step: 0.5, h: xh, title: 'Time (s)', fs: 19.5, ts: 19, pad: 1.6 }),
        y: yAx({ min: 0, max: 14.6, step: 2.5, w: yw, fs: 19.5 }),
      },
    },
    plugins: [errPlugin],
  };
}

const BOX_H: Box = { x: 250, y: 975, w: 125, h: 265 };
const AREA_H: Area = { l: 313.3, t: 996, r: 354, b: 1192.3 };
function cfgH() {
  const yw = ywFor(AREA_H, 267.5, 18);
  const xh = 45;
  return {
    type: 'bar',
    data: { datasets: [barSet(H_RRP, [H_BASAL_DOTS, H_HZ_DOTS], [BLACK, GRAY_BAR], 14, [BLACK, GRAY_DOT])] },
    options: {
      ...baseOptions(BOX_H, AREA_H, yw, xh, {
        dots: { r: 3.4, pairs: true, pairColor: '#111' },
        brackets: { items: [{ a: [0, 0], b: [0, 1], y: 11.9, leg: 11.5, text: '**', fs: 20, dy: 4.6 }] },
      }),
      scales: {
        x: xAx({ min: -0.93, max: 1.98, h: xh, labels: RRP_LABELS, rot: 45, fs: 18, pad: 2 }),
        y: yAx({ min: 0, max: 11.85, step: 2.5, w: yw, title: 'RRP (nA)', fs: 19, ts: 18 }),
      },
    },
    plugins: [dotsPlugin, bracketPlugin],
  };
}

const BOX_J: Box = { x: 630, y: 975, w: 110, h: 265 };
const AREA_J: Area = { l: 691.7, t: 993.3, r: 731.7, b: 1192.3 };
function cfgJ() {
  const yw = ywFor(AREA_J, 647, 18);
  const xh = 45;
  return {
    type: 'bar',
    data: { datasets: [barSet(J_RRP, [J_BASAL_DOTS, J_HZ_DOTS], [RED, GRAY_BAR], 14, [RED, GRAY_DOT])] },
    options: {
      ...baseOptions(BOX_J, AREA_J, yw, xh, {
        dots: { r: 3.5, pairs: true, pairColor: '#333' },
        brackets: { items: [{ a: [0, 0], y: 9.61, text: '#', fs: 18, dy: 6.3 }] },
      }),
      scales: {
        x: xAx({ min: -0.86, max: 2.0, h: xh, labels: RRP_LABELS, rot: 45, fs: 18, pad: 2 }),
        y: yAx({ min: 0, max: 12, step: 2.5, w: yw, title: 'RRP (nA)', fs: 19, ts: 18 }),
      },
    },
    plugins: [dotsPlugin, bracketPlugin],
  };
}

// ---------------- inset traces ----------------
function insetCfg(xr: number[], yr: number[], lines: any[]) {
  return {
    type: 'line',
    data: { datasets: lines.map((s) => ({
      data: s.pts,
      borderColor: s.color,
      borderWidth: s.w ?? 1.5,
      borderDash: s.dash || [],
      pointRadius: 0,
      fill: false,
      tension: s.smooth ? 0.4 : 0,
      cubicInterpolationMode: s.smooth ? 'monotone' : 'default',
      order: s.order ?? 0,
      clip: false,
    })) },
    options: {
      responsive: false, animation: false, events: [],
      plugins: { legend: { display: false }, tooltip: { enabled: false } },
      layout: { padding: 0 },
      scales: {
        x: { type: 'linear', display: false, min: xr[0], max: xr[1] },
        y: { type: 'linear', display: false, min: yr[0], max: yr[1] },
      },
    },
  };
}

// inset boxes; x ranges in sample units across the full box width
const BOX_IA: Box = { x: 198, y: 22, w: 95, h: 54 };
const cfgInsetA = () => insetCfg([-1.04, 25.73], [-1.113, 0.106], [
  { pts: trace(A_TR_KO, 0), color: RED, smooth: true, order: 0 },
  { pts: trace(A_TR_WT, 0), color: BLACK, smooth: true, order: 1 },
  { pts: pairs(A_SCALE_X, A_SCALE_Y), color: '#000', w: 1.5 },
]);

const BOX_IB: Box = { x: 488, y: 24, w: 80, h: 74 };
const cfgInsetB = () => insetCfg([-1.06, 21.77], [-1.056, 0.065], [
  { pts: trace(B_TR_WT, 0), color: BLACK, smooth: true, order: 0 },
  { pts: trace(B_TR_KO, 0), color: RED, smooth: true, order: 1 },
  { pts: pairs(B_SCALE_X, B_SCALE_Y), color: '#000', w: 1.5 },
]);

const BOX_IC: Box = { x: 128, y: 328, w: 115, h: 64 };
const cfgInsetC = () => insetCfg([0, 37.7], [-1.8, 0.22], [
  { pts: trace(C_T1_GR, 1.2), color: GREEN_DOT, smooth: true, order: 0 },
  { pts: trace(C_T1_KO, 1.2), color: RED, smooth: true, order: 1 },
  { pts: trace(C_T1_WT, 1.2), color: BLACK, smooth: true, order: 2 },
  { pts: trace(C_T2_GR, 20.3), color: GREEN_DOT, smooth: true, order: 0 },
  { pts: trace(C_T2_KO, 20.3), color: RED, smooth: true, order: 1 },
  { pts: trace(C_T2_WT, 20.3), color: BLACK, smooth: true, order: 2 },
  { pts: pairs(C_DOT_X, C_DOT_Y), color: '#000', w: 1.2, dash: [1.5, 1.5] },
  { pts: pairs(C_SCALE_X, C_SCALE_Y), color: '#000', w: 1.5 },
]);

const BOX_IE: Box = { x: 120, y: 625, w: 155, h: 75 };
const cfgInsetE = () => insetCfg([-1.1, 50.57], [-1.482, 0.184], [
  { pts: trace(E_T1_GR, 0), color: GREEN_DOT, smooth: true, order: 0 },
  { pts: trace(E_T1_KO, 0), color: RED, smooth: true, order: 1 },
  { pts: trace(E_T1_WT, 0), color: BLACK, smooth: true, order: 2 },
  { pts: trace(E_T2_GR, 25), color: GREEN_DOT, smooth: true, order: 0 },
  { pts: trace(E_T2_KO, 25), color: RED, smooth: true, order: 1 },
  { pts: trace(E_T2_WT, 25), color: BLACK, smooth: true, order: 2 },
  { pts: pairs(E_DOT_X, E_DOT_Y), color: '#000', w: 1.2, dash: [1.5, 1.5] },
  { pts: pairs(E_SCALE_X, E_SCALE_Y), color: '#000', w: 1.5 },
]);

// ---------------- components ----------------
function ChartCanvas({ box, make }: { box: Box; make: () => any }) {
  const ref = useRef<HTMLCanvasElement | null>(null);
  useEffect(() => {
    const chart = new Chart(ref.current as HTMLCanvasElement, make());
    return () => chart.destroy();
  }, [make]);
  return (
    <canvas
      ref={ref}
      width={Math.round(box.w / K)}
      height={box.h}
      style={{ position: 'absolute', left: box.x, top: box.y, width: box.w, height: box.h }}
    />
  );
}

function T({ x, y, s = 18, b = false, left = false, rot = false, children }: any) {
  let transform = left ? 'translate(0,-50%)' : 'translate(-50%,-50%)';
  if (rot) transform = 'translate(-50%,-50%) rotate(-90deg)';
  return (
    <div
      style={{
        position: 'absolute', left: x, top: y, transform,
        fontSize: s, fontWeight: b ? 700 : 400, lineHeight: 1, whiteSpace: 'nowrap',
        color: '#000', fontFamily: FONT,
      }}
    >
      {children}
    </div>
  );
}

function Sq({ x, y, w, h, c }: any) {
  return <div style={{ position: 'absolute', left: x, top: y, width: w, height: h, background: c, border: '1px solid #000', boxSizing: 'border-box' }} />;
}

function Dot({ x, y, c, r = 4.5 }: any) {
  return <div style={{ position: 'absolute', left: x - r, top: y - r, width: r * 2, height: r * 2, borderRadius: '50%', background: c }} />;
}

function Dash({ x, y, w = 5 }: any) {
  return <div style={{ position: 'absolute', left: x - w / 2, top: y - 0.75, width: w, height: 1.5, background: '#000' }} />;
}

export default function App() {
  return (
    <div style={{ position: 'absolute', left: 0, top: 0, width: 742, height: 1240, background: '#fff', overflow: 'hidden', fontFamily: FONT }}>
      <ChartCanvas box={BOX_A} make={cfgA} />
      <ChartCanvas box={BOX_B} make={cfgB} />
      <ChartCanvas box={BOX_C} make={cfgC} />
      <ChartCanvas box={BOX_D} make={cfgD} />
      <ChartCanvas box={BOX_E} make={cfgE} />
      <ChartCanvas box={BOX_F} make={cfgF} />
      <ChartCanvas box={BOX_G} make={cfgG} />
      <ChartCanvas box={BOX_H} make={cfgH} />
      <ChartCanvas box={BOX_I} make={cfgI} />
      <ChartCanvas box={BOX_J} make={cfgJ} />
      <ChartCanvas box={BOX_IA} make={cfgInsetA} />
      <ChartCanvas box={BOX_IB} make={cfgInsetB} />
      <ChartCanvas box={BOX_IC} make={cfgInsetC} />
      <ChartCanvas box={BOX_IE} make={cfgInsetE} />

      {/* axis titles wider than their plot area */}
      <T x={562} y={273} s={20.5}>Stimulation Intensity (μA)</T>
      <T x={9} y={1101} s={19} rot>Cumulative amplitude (nA)</T>
      <T x={392.3} y={1103} s={19} rot>Cumulative amplitude (nA)</T>

      {/* panel letters */}
      <T x={84} y={13.5} s={23} b>A</T>
      <T x={413} y={12.5} s={23} b>B</T>
      <T x={55.5} y={320.5} s={23} b>C</T>
      <T x={503} y={320} s={23} b>D</T>
      <T x={52.5} y={632.5} s={23} b>E</T>
      <T x={504} y={627.5} s={23} b>F</T>
      <T x={13} y={962} s={26} b>G</T>
      <T x={268} y={964} s={22} b>H</T>
      <T x={388} y={963} s={23} b>I</T>
      <T x={646} y={964} s={23} b>J</T>

      {/* legends A / B */}
      <Sq x={180} y={3} w={17} h={15} c={BLACK} />
      <T x={200} y={10.5} s={19} left>WT</T>
      <Sq x={240} y={3} w={17} h={15} c={RED} />
      <T x={262} y={10.5} s={18.5} left><i>Fmr1</i> KO</T>
      <Sq x={490} y={3} w={17} h={15} c={BLACK} />
      <T x={512} y={10.5} s={19} left>WT</T>
      <Sq x={550} y={3} w={18} h={15} c={RED} />
      <T x={572} y={10.5} s={18.5} left><i>Fmr1</i> KO</T>

      {/* panel C annotations */}
      <T x={141.7} y={328} s={18}>1</T>
      <T x={201.7} y={328} s={18}>2</T>
      <T x={176.7} y={443} s={19}>1</T>
      <T x={398} y={443} s={19}>2</T>
      <T x={194} y={416.7} s={19}>10Hz</T>
      <Dash x={212} y={428.3} w={4} />
      <T x={393.7} y={348.3} s={19.5}>40Hz</T>
      <Dash x={381.7} y={360.7} w={4} />
      <Dot x={320} y={502.5} c={BLACK} />
      <T x={331.5} y={502.5} left>WT</T>
      <Dot x={320} y={520} c={GREEN_DOT} />
      <T x={331.5} y={520} left>WT + Propranolol</T>
      <Dot x={320} y={537.5} c={RED} />
      <T x={331.5} y={537.5} left><i>Fmr1</i> KO</T>

      {/* panel E annotations */}
      <T x={135} y={623} s={18}>1</T>
      <T x={211.7} y={623} s={18}>2</T>
      <T x={179.3} y={726} s={19}>1</T>
      <T x={397.3} y={728.3} s={19}>2</T>
      <T x={190.8} y={852.5} s={19}>10Hz</T>
      <Dash x={210.3} y={837.3} w={4} />
      <Dot x={316} y={668.3} c={BLACK} />
      <T x={325} y={667.5} s={18.5} left>WT</T>
      <Dot x={316} y={683.3} c={GREEN_DOT} />
      <T x={325} y={681} s={18.5} left>WT + Propranolol</T>
      <Dot x={319.3} y={700} c={RED} />
      <T x={325} y={698.3} s={18.5} left>Fmr1 KO</T>

      {/* panels G–J titles and labels */}
      <T x={142} y={967.5} s={19}>WT</T>
      <T x={183} y={1001.5} s={18}>10 Hz</T>
      <T x={189} y={1062.5} s={17.5}>Basal</T>
      <T x={333} y={961.7} s={19}>WT</T>
      <T x={526.7} y={967.5} s={18}><i>Fmr1</i> KO</T>
      <T x={579} y={1004} s={17}>10 Hz</T>
      <T x={584} y={1067.5} s={18}>Basal</T>
      <T x={699} y={962.5} s={20}><i>Fmr1</i> KO</T>
    </div>
  );
}
